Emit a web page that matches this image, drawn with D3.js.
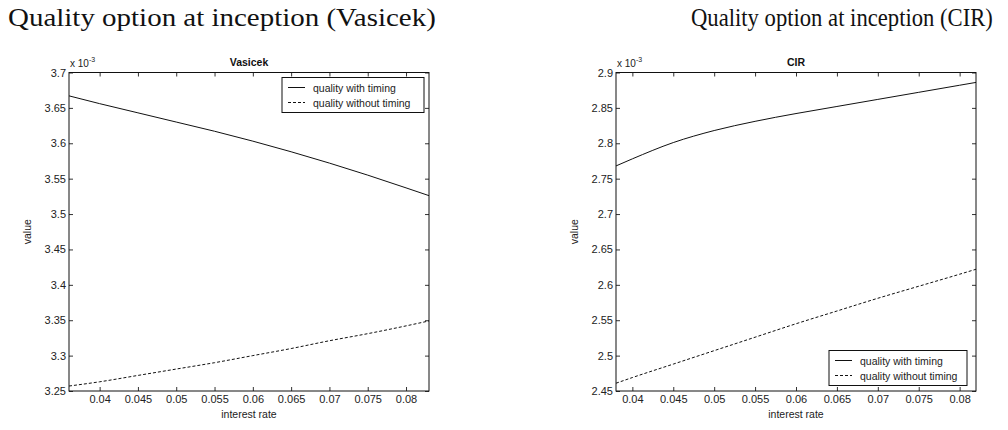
<!DOCTYPE html>
<html>
<head>
<meta charset="utf-8">
<script src="https://cdn.jsdelivr.net/npm/d3@7"></script>
<style>
  body { margin: 0; background: #fff; }
  svg { display: block; }
  .tick text { font-family: "Liberation Sans", Arial, sans-serif; font-size: 11px; fill: #222; }
</style>
</head>
<body>
<script>
// values (in units of 10^-3)
var vasRates = [0.036, 0.040, 0.045, 0.050, 0.055, 0.060, 0.065, 0.070, 0.075, 0.080, 0.083];
var vasWith = [3.667, 3.656, 3.643, 3.630, 3.617, 3.603, 3.588, 3.572, 3.555, 3.537, 3.526];
var vasWithout = [3.257, 3.263, 3.272, 3.281, 3.290, 3.300, 3.310, 3.321, 3.331, 3.342, 3.349];

var cirRates = [0.038, 0.040, 0.045, 0.050, 0.055, 0.060, 0.065, 0.070, 0.075, 0.080, 0.082];
var cirWith = [2.768, 2.778, 2.801, 2.818, 2.831, 2.842, 2.852, 2.862, 2.872, 2.882, 2.886];
var cirWithout = [2.461, 2.469, 2.488, 2.507, 2.526, 2.545, 2.563, 2.581, 2.598, 2.615, 2.622];

var xTicks = [0.04, 0.045, 0.05, 0.055, 0.06, 0.065, 0.07, 0.075, 0.08];
var vasYTicks = [3.25, 3.3, 3.35, 3.4, 3.45, 3.5, 3.55, 3.6, 3.65, 3.7];
var cirYTicks = [2.45, 2.5, 2.55, 2.6, 2.65, 2.7, 2.75, 2.8, 2.85, 2.9];

var seriesNames = ["quality with timing", "quality without timing"];

var svg = d3.select("body").append("svg")
  .attr("width", 1008)
  .attr("height", 430);

// one matlab-style panel
function panel(opt) {
  var x = d3.scaleLinear().domain(opt.xDomain).range([opt.left, opt.right]);
  var y = d3.scaleLinear().domain(opt.yDomain).range([opt.bottom, opt.top]);
  var g = svg.append("g");
  var mid = (opt.left + opt.right) / 2;

  // big page title, squeezed sideways to the width seen in the scan
  var t = g.append("text")
    .style("font-family", "'Liberation Serif', 'DejaVu Serif', serif")
    .style("font-size", "25px")
    .style("fill", "#111")
    .text(opt.title);
  var w = t.node().getComputedTextLength();
  t.attr("transform", "translate(" + opt.titleX + ",26) scale(" + (opt.titleW / w) + ",1)");

  // axes, ticks pointing inward on all four sides
  var fmt = function(d) { return String(+d.toFixed(3)); };
  g.append("g")
    .attr("transform", "translate(0," + opt.bottom + ")")
    .call(d3.axisBottom(x).tickValues(xTicks).tickSizeInner(-4).tickSizeOuter(0).tickPadding(4).tickFormat(fmt));
  g.append("g")
    .attr("transform", "translate(0," + opt.top + ")")
    .call(d3.axisTop(x).tickValues(xTicks).tickSizeInner(-4).tickSizeOuter(0).tickFormat(""));
  g.append("g")
    .attr("transform", "translate(" + opt.left + ",0)")
    .call(d3.axisLeft(y).tickValues(opt.yTicks).tickSizeInner(-4).tickSizeOuter(0).tickPadding(3).tickFormat(fmt));
  g.append("g")
    .attr("transform", "translate(" + opt.right + ",0)")
    .call(d3.axisRight(y).tickValues(opt.yTicks).tickSizeInner(-4).tickSizeOuter(0).tickFormat(""));
  g.selectAll(".domain").remove();
  g.selectAll(".tick line").attr("stroke", "#333");

  g.append("rect")
    .attr("x", opt.left)
    .attr("y", opt.top)
    .attr("width", opt.right - opt.left)
    .attr("height", opt.bottom - opt.top)
    .attr("fill", "none")
    .attr("stroke", "#111")
    .attr("stroke-width", 1);

  // exponent label
  var ex = g.append("text")
    .attr("x", opt.left + 1)
    .attr("y", opt.top - 6)
    .style("font-family", "'Liberation Sans', Arial, sans-serif")
    .style("font-size", "10px")
    .style("fill", "#222");
  ex.append("tspan").text("x 10");
  ex.append("tspan").attr("dy", -5).style("font-size", "7px").text("-3");

  // small title
  g.append("text")
    .attr("x", mid)
    .attr("y", opt.top - 7)
    .attr("text-anchor", "middle")
    .style("font-family", "'Liberation Sans', Arial, sans-serif")
    .style("font-size", "10.5px")
    .style("font-weight", "bold")
    .style("fill", "#111")
    .text(opt.sub);

  g.append("text")
    .attr("x", mid)
    .attr("y", 418)
    .attr("text-anchor", "middle")
    .style("font-family", "'Liberation Sans', Arial, sans-serif")
    .style("font-size", "10.5px")
    .style("fill", "#222")
    .text("interest rate");

  g.append("text")
    .attr("transform", "translate(" + (opt.left - 38) + "," + ((opt.top + opt.bottom) / 2) + ") rotate(-90)")
    .attr("text-anchor", "middle")
    .style("font-family", "'Liberation Sans', Arial, sans-serif")
    .style("font-size", "10.5px")
    .style("fill", "#222")
    .text("value");

  // curves
  var line = d3.line()
    .x(function(d) { return x(d[0]); })
    .y(function(d) { return y(d[1]); })
    .curve(d3.curveMonotoneX);

  g.append("path")
    .datum(d3.zip(opt.rates, opt.withT))
    .attr("d", line)
    .attr("fill", "none")
    .attr("stroke", "#111")
    .attr("stroke-width", 1);

  g.append("path")
    .datum(d3.zip(opt.rates, opt.withoutT))
    .attr("d", line)
    .attr("fill", "none")
    .attr("stroke", "#111")
    .attr("stroke-width", 1)
    .attr("stroke-dasharray", "3,2");

  // legend
  var lg = g.append("g").attr("transform", "translate(" + opt.legX + "," + opt.legY + ")");
  lg.append("rect")
    .attr("width", opt.legW)
    .attr("height", 35)
    .attr("fill", "#fff")
    .attr("stroke", "#111");
  lg.selectAll(".item").data(seriesNames).enter().append("g")
    .attr("class", "item")
    .attr("transform", function(d, i) { return "translate(0," + (10 + i * 15) + ")"; })
    .each(function(d, i) {
      var it = d3.select(this);
      it.append("line")
        .attr("x1", 6).attr("x2", 23)
        .attr("stroke", "#111")
        .attr("stroke-dasharray", i ? "3,2" : null);
      it.append("text")
        .attr("x", 31)
        .attr("y", 4)
        .style("font-family", "'Liberation Sans', Arial, sans-serif")
        .style("font-size", "10.5px")
        .style("fill", "#222")
        .text(d);
    });
}

panel({
  title: "Quality option at inception (Vasicek)", titleX: 8, titleW: 428,
  sub: "Vasicek",
  left: 69, right: 429, top: 72.5, bottom: 391,
  xDomain: [0.036, 0.083], yDomain: [3.25, 3.7], yTicks: vasYTicks,
  rates: vasRates, withT: vasWith, withoutT: vasWithout,
  legX: 282, legY: 77.5, legW: 142
});

panel({
  title: "Quality option at inception (CIR)", titleX: 691, titleW: 302,
  sub: "CIR",
  left: 616, right: 976, top: 72.5, bottom: 391,
  xDomain: [0.038, 0.082], yDomain: [2.45, 2.9], yTicks: cirYTicks,
  rates: cirRates, withT: cirWith, withoutT: cirWithout,
  legX: 829, legY: 350.5, legW: 138
});
</script>
</body>
</html>
